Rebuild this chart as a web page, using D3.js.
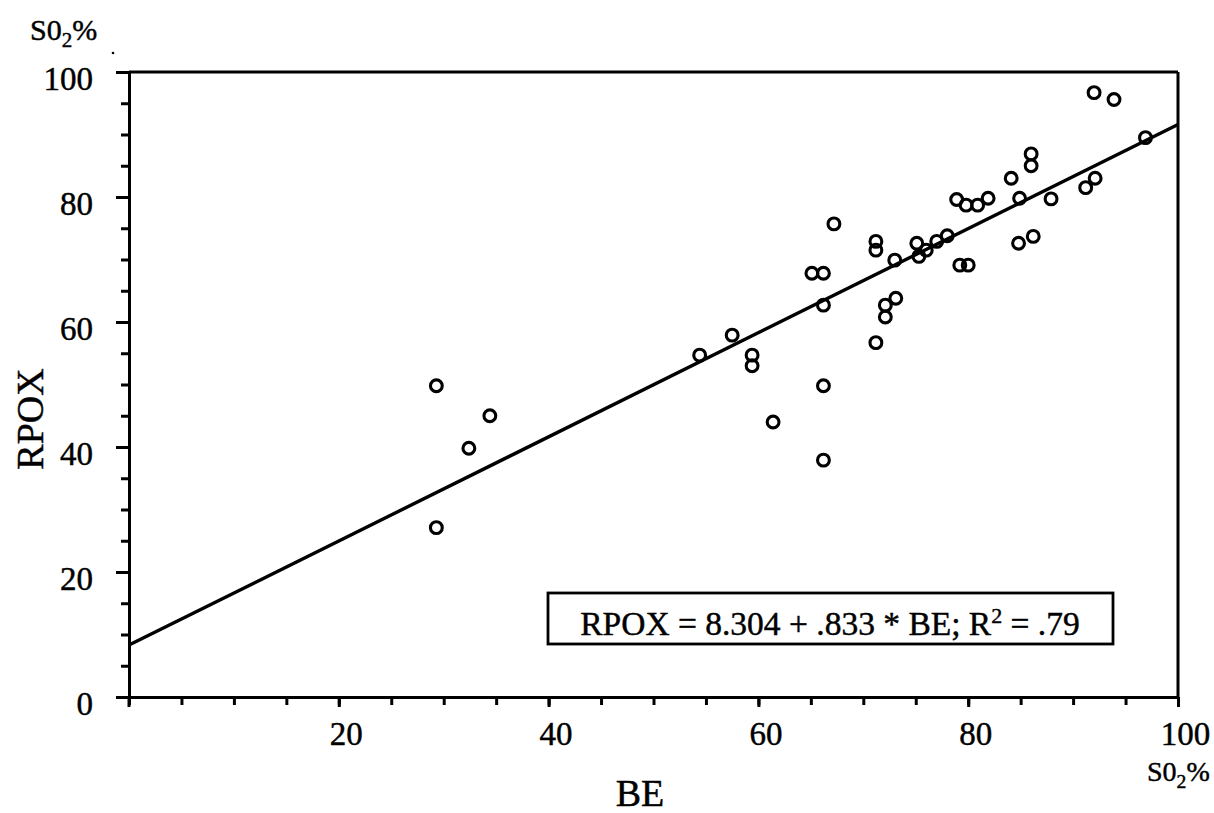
<!DOCTYPE html>
<html>
<head>
<meta charset="utf-8">
<script src="https://cdn.jsdelivr.net/npm/d3@7/dist/d3.min.js"></script>
<style>
  html, body { margin: 0; padding: 0; background: #fff; }
  svg { display: block; font-family: "Liberation Serif", "DejaVu Serif", serif; }
  text { stroke: #000; stroke-width: 0.45px; }
</style>
</head>
<body>
<svg id="chart" width="1214" height="813"></svg>
<script>
// ---- data ----
const beValues = [29.3, 32.4, 34.4, 29.3, 54.4, 57.5, 59.4, 59.4, 61.4, 65.1, 66.2, 66.2, 66.2, 66.2,
  67.2, 71.2, 71.2, 71.2, 72.1, 72.1, 73.1, 73.0, 75.1, 75.3, 76.0, 77.0, 78.0, 79.2, 80.0,
  78.9, 79.8, 80.9, 81.9, 84.1, 86.0, 86.0, 84.9, 87.9, 84.8, 86.2, 92.1, 91.2, 92.0, 93.9, 96.9];
const rpoxValues = [49.8, 39.8, 45.0, 27.1, 54.7, 57.9, 54.7, 53.0, 44.0, 67.8, 67.8, 62.7, 49.8, 37.9,
  75.7, 72.9, 71.5, 56.7, 62.7, 60.8, 63.8, 69.9, 72.6, 70.5, 71.5, 72.9, 73.8, 69.1, 69.1,
  79.6, 78.7, 78.7, 79.8, 83.0, 86.9, 85.0, 79.8, 79.7, 72.6, 73.7, 83.0, 81.5, 96.7, 95.6, 89.5];
const fitIntercept = 8.304;
const fitSlope = 0.833;
const xTickLabels = [20, 40, 60, 80, 100];
const yTickLabels = [0, 20, 40, 60, 80, 100];
const minorTicks = d3.range(0, 101, 5);

// ---- layout ----
const svg = d3.select("#chart");
const x = d3.scaleLinear().domain([0, 100]).range([129, 1178]);
const y = d3.scaleLinear().domain([0, 100]).range([697, 72]);
const tickFont = 33;

// frame (top and right)
svg.append("line").attr("x1", x(0)).attr("x2", x(100)).attr("y1", y(100)).attr("y2", y(100))
  .attr("stroke", "#000").attr("stroke-width", 3);
svg.append("line").attr("x1", x(100)).attr("x2", x(100)).attr("y1", y(100)).attr("y2", y(0))
  .attr("stroke", "#000").attr("stroke-width", 3);

// minor ticks
svg.append("g").attr("transform", `translate(${x(0)},0)`)
  .call(d3.axisLeft(y).tickValues(minorTicks).tickSize(8).tickFormat(""))
  .call(g => g.select(".domain").remove())
  .selectAll("line").attr("stroke-width", 3);
svg.append("g").attr("transform", `translate(0,${y(0)})`)
  .call(d3.axisBottom(x).tickValues(minorTicks).tickSize(8).tickFormat(""))
  .call(g => g.select(".domain").remove())
  .selectAll("line").attr("stroke-width", 3);

// major y axis
const yAxis = svg.append("g").attr("transform", `translate(${x(0)},0)`)
  .call(d3.axisLeft(y).tickValues(yTickLabels).tickSize(13).tickPadding(23).tickSizeOuter(0));
yAxis.select(".domain").attr("stroke-width", 3);
yAxis.selectAll(".tick line").attr("stroke-width", 3);
yAxis.selectAll(".tick text").attr("font-size", tickFont).attr("font-family", "Liberation Serif")
  .attr("fill", "#000").attr("dy", "0.54em");

// major x axis
const xAxis = svg.append("g").attr("transform", `translate(0,${y(0)})`)
  .call(d3.axisBottom(x).tickValues(xTickLabels).tickSize(10).tickPadding(15).tickSizeOuter(0));
xAxis.select(".domain").attr("stroke-width", 3);
xAxis.selectAll(".tick line").attr("stroke-width", 3);
xAxis.selectAll(".tick text").attr("font-size", tickFont).attr("font-family", "Liberation Serif")
  .attr("fill", "#000").attr("dx", 7);
// extra tick at 0 on x axis
svg.append("line").attr("x1", x(0)).attr("x2", x(0)).attr("y1", y(0)).attr("y2", y(0) + 10)
  .attr("stroke", "#000").attr("stroke-width", 3);

// regression line
svg.append("line")
  .attr("x1", x(0)).attr("y1", y(fitIntercept))
  .attr("x2", x(100)).attr("y2", y(fitIntercept + fitSlope * 100))
  .attr("stroke", "#000").attr("stroke-width", 3.4);

// points
svg.append("g").selectAll("circle").data(beValues.map((v, i) => [v, rpoxValues[i]]))
  .join("circle")
  .attr("cx", d => x(d[0])).attr("cy", d => y(d[1])).attr("r", 5.9)
  .attr("fill", "none").attr("stroke", "#000").attr("stroke-width", 3.1);

// legend box
const box = svg.append("g");
box.append("rect").attr("x", 548).attr("y", 593).attr("width", 565).attr("height", 51)
  .attr("fill", "#fff").attr("stroke", "#000").attr("stroke-width", 2.8);
const lt = box.append("text").attr("x", 830).attr("y", 635).attr("text-anchor", "middle")
  .attr("font-size", 33.5).attr("fill", "#000");
lt.append("tspan").text("RPOX = 8.304 + .833 * BE; R");
lt.append("tspan").attr("font-size", 22).attr("dy", -12).text("2");
lt.append("tspan").attr("dy", 12).text(" = .79");

// axis titles
svg.append("text").attr("transform", "translate(43,419) rotate(-90)").attr("text-anchor", "middle")
  .attr("font-size", 38).attr("fill", "#000").text("RPOX");
svg.append("text").attr("x", 640).attr("y", 806).attr("text-anchor", "middle")
  .attr("font-size", 38).attr("fill", "#000").text("BE");

// unit labels
function unit(xp, yp, fs) {
  const t = svg.append("text").attr("x", xp).attr("y", yp).attr("font-size", fs).attr("fill", "#000");
  t.append("tspan").text("S0");
  t.append("tspan").attr("font-size", fs * 0.7).attr("dy", 7).text("2");
  t.append("tspan").attr("dy", -7).text("%");
}
unit(30, 40, 30);
unit(1147, 781, 28);
svg.append("circle").attr("cx", 113).attr("cy", 53).attr("r", 1.3).attr("fill", "#000");
</script>
</body>
</html>
